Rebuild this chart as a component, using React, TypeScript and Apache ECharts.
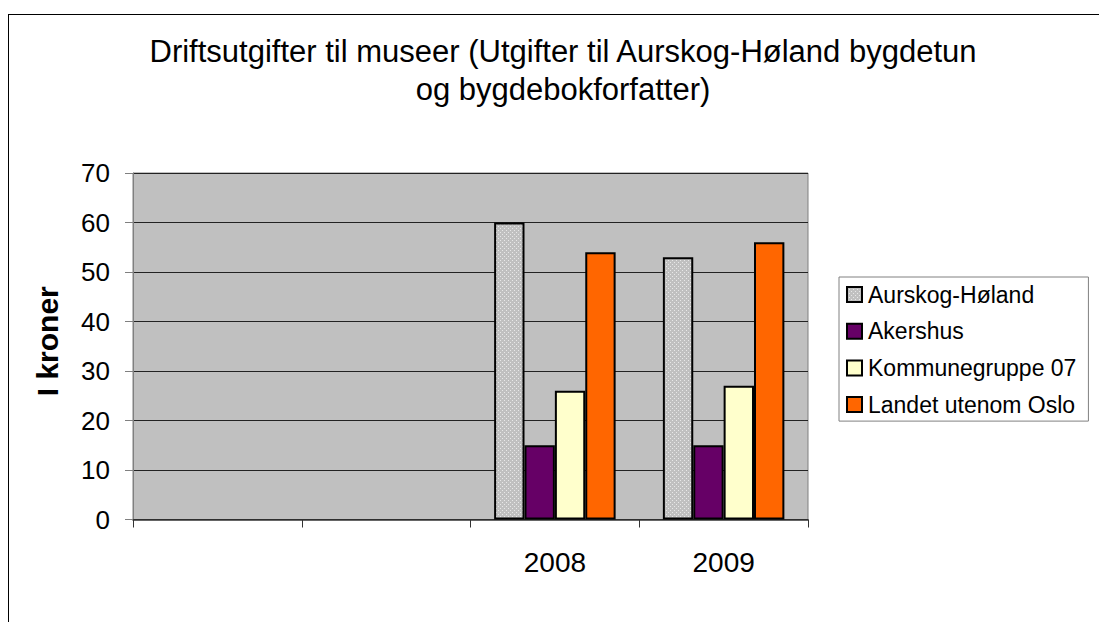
import React, { useEffect, useRef } from "react";
import * as echarts from "echarts";

const titleLines = [
  "Driftsutgifter til museer (Utgifter til Aurskog-Høland bygdetun",
  "og bygdebokforfatter)",
];
const categories = ["", "", "2008", "2009"];
const seriesNames = ["Aurskog-Høland", "Akershus", "Kommunegruppe 07", "Landet utenom Oslo"];
const aurskogHoland = [null, null, 60, 53];
const akershus = [null, null, 15, 15];
const kommunegruppe07 = [null, null, 26, 27];
const landetUtenomOslo = [null, null, 54, 56];
const yTicks = { min: 0, max: 70, interval: 10 };
const yAxisName = "I kroner";

function makeDotPattern(): string {
  const c = document.createElement("canvas");
  c.width = 4;
  c.height = 4;
  const ctx = c.getContext("2d")!;
  ctx.fillStyle = "#c0c0c0";
  ctx.fillRect(0, 0, 4, 4);
  ctx.fillStyle = "#e8e8e8";
  ctx.fillRect(0, 0, 1, 1);
  ctx.fillRect(2, 2, 1, 1);
  return c.toDataURL();
}

export default function App() {
  const ref = useRef<HTMLDivElement>(null);
  useEffect(() => {
    if (!ref.current) return;
    document.body.style.margin = "0";
    document.documentElement.style.overflow = "hidden";
    const chart = echarts.init(ref.current, undefined, { renderer: "svg" });
    const pattern = { image: makeDotPattern(), repeat: "repeat", imageWidth: 4, imageHeight: 4 };
    const colors: any[] = [pattern, "#660066", "#ffffcc", "#ff6600"];
    const datasets = [aurskogHoland, akershus, kommunegruppe07, landetUtenomOslo];
    const font = "Liberation Sans, Arial, sans-serif";
    chart.setOption({
      animation: false,
      textStyle: { fontFamily: font },
      title: {
        text: titleLines.join("\n"),
        left: 555,
        top: 24,
        textAlign: "center",
        padding: 0,
        textStyle: { fontSize: 31, fontWeight: "normal", color: "#000", lineHeight: 38, fontFamily: font },
      },
      graphic: [
        {
          type: "line",
          shape: { x1: 0, y1: 6.5, x2: 1091, y2: 6.5 },
          style: { stroke: "#000", lineWidth: 1 },
          silent: true,
        },
        {
          type: "line",
          shape: { x1: 0.5, y1: 6, x2: 0.5, y2: 614 },
          style: { stroke: "#000", lineWidth: 1 },
          silent: true,
        },
      ],
      legend: {
        orient: "vertical",
        left: 831,
        top: 269,
        padding: [6, 12, 5, 7],
        itemGap: 13.7,
        itemWidth: 15,
        itemHeight: 15,
        icon: "rect",
        borderColor: "#808080",
        borderWidth: 1,
        backgroundColor: "#fff",
        itemStyle: { borderColor: "#000", borderWidth: 2 },
        textStyle: { fontSize: 23, color: "#000", fontFamily: font, padding: [0, 0, 0, 1] },
        data: seriesNames,
      },
      grid: {
        left: 125,
        top: 165,
        width: 675,
        height: 346.5,
        show: true,
        backgroundColor: "#c0c0c0",
        borderColor: "#808080",
        borderWidth: 1,
      },
      xAxis: {
        type: "category",
        data: categories,
        axisLine: { show: true, lineStyle: { color: "#333", width: 1.5 } },
        axisTick: { show: true, length: 8, lineStyle: { color: "#333" } },
        axisLabel: { fontSize: 28, color: "#000", margin: 29, fontFamily: font },
        splitLine: { show: false },
      },
      yAxis: {
        type: "value",
        min: yTicks.min,
        max: yTicks.max,
        interval: yTicks.interval,
        name: yAxisName,
        nameLocation: "middle",
        nameRotate: 90,
        nameGap: 71,
        nameTextStyle: { fontSize: 30, fontWeight: "bold", color: "#000", fontFamily: font, padding: [0, 0, 0, 10] },
        axisLine: { show: true, lineStyle: { color: "#808080" } },
        axisTick: { show: true, length: 8, lineStyle: { color: "#808080" } },
        axisLabel: { fontSize: 26, color: "#000", margin: 23, fontFamily: font },
        splitLine: { show: true, lineStyle: { color: "#222", width: 1 } },
      },
      series: datasets.map((d, i) => ({
        name: seriesNames[i],
        type: "bar",
        data: d,
        barGap: "0%",
        barCategoryGap: "28%",
        itemStyle: { color: colors[i], borderColor: "#000", borderWidth: 2 },
      })),
    });
    return () => chart.dispose();
  }, []);
  return <div ref={ref} style={{ width: 1091, height: 614, marginLeft: 8, paddingTop: 0, position: "absolute", left: 0, top: 8 }} />;
}
